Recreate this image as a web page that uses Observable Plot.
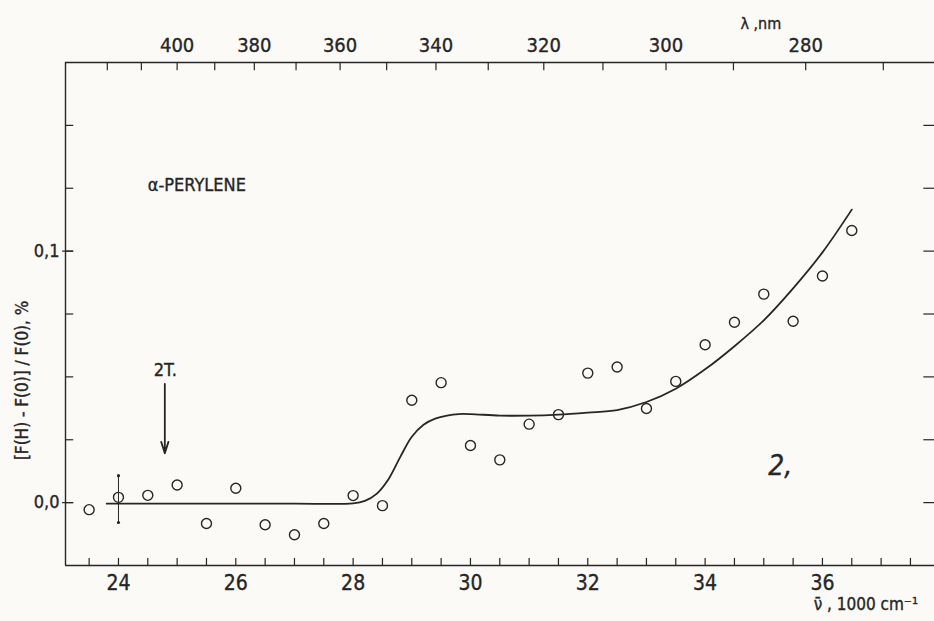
<!DOCTYPE html>
<html><head><meta charset="utf-8">
<script src="https://cdn.jsdelivr.net/npm/d3@7"></script>
<script src="https://cdn.jsdelivr.net/npm/@observablehq/plot@0.6"></script>
<style>
html,body{margin:0;padding:0;background:#fbfaf7;}
#chart svg{display:block;}
</style></head><body><div id="chart"></div>
<script>
// Measured points: wavenumber (1000 cm^-1) and relative change (%)
const wavenumber = [23.5,24,24.5,25,25.5,26,26.5,27,27.5,28,28.5,29,29.5,30,30.5,31,31.5,32,32.5,33,33.5,34,34.5,35,35.5,36,36.5];
const signal = [-0.0028,0.0021,0.0029,0.0070,-0.0083,0.0057,-0.0088,-0.0128,-0.0083,0.0028,-0.0012,0.0407,0.0477,0.0227,0.0170,0.0312,0.0350,0.0515,0.0539,0.0374,0.0482,0.0628,0.0717,0.0829,0.0721,0.0901,0.1082];
// Drawn fit curve
const curveX = [23.8,25,26,27,28.0,28.2,28.4,28.6,28.8,29.0,29.2,29.4,29.6,29.8,30.0,30.5,31.0,31.5,32.0,32.5,33.0,33.5,34.0,34.5,35.0,35.5,36.0,36.5];
const curveY = [-0.0004,-0.0004,-0.0004,-0.0004,-0.0003,0.0007,0.0035,0.0092,0.0180,0.0262,0.0310,0.0334,0.0346,0.0352,0.0352,0.0346,0.0346,0.0350,0.0358,0.0368,0.0400,0.0453,0.0530,0.0622,0.0725,0.0852,0.0995,0.1165];
// Error bar at 24
const errX = [24];
const errLow = [-0.0079];
const errHigh = [0.0107];
// Axes
const xTickLabels = [24,26,28,30,32,34,36];
const xMinorTicks = [23.5,24,24.5,25,25.5,26,26.5,27,27.5,28,28.5,29,29.5,30,30.5,31,31.5,32,32.5,33,33.5,34,34.5,35,35.5,36,36.5,37,37.5];
const yTicks = [0,0.025,0.05,0.075,0.1,0.125,0.15];
const yLabelValues = [0,0.1];
const yLabelTexts = ["0,0","0,1"];
const lambdaTicks = [270,280,290,300,310,320,330,340,350,360,370,380,390,400,410,420];
const lambdaLabels = [400,380,360,340,320,300,280];

const X0 = 23.097, X1 = 37.91, Y0 = -0.025, Y1 = 0.175;
const ink = "#262626";
const font = "'Liberation Sans Narrow', 'DejaVu Sans Condensed', sans-serif";
const ylen = 0.0033, xlen = 0.14;
const tx = {fill: ink, stroke: ink, strokeWidth: 0.35};

const pts = wavenumber.map((x,i)=>({x, y: signal[i]}));
const curve = curveX.map((x,i)=>({x, y: curveY[i]}));
const lam = lambdaTicks.map(l=>({l, x: 1e4/l}));
const lamLab = lambdaLabels.map(l=>({l, x: 1e4/l}));

const chart = Plot.plot({
  width: 934, height: 621,
  marginLeft: 65, marginRight: 0, marginTop: 62, marginBottom: 56,
  style: {background: "transparent", fontFamily: font, color: ink},
  x: {domain: [X0, X1], axis: null},
  y: {domain: [Y0, Y1], axis: null},
  marks: [
    // frame (left, top, bottom)
    Plot.ruleX([X0], {y1: Y0, y2: Y1, stroke: ink, strokeWidth: 1.4}),
    Plot.ruleY([Y1], {x1: X0, x2: X1, stroke: ink, strokeWidth: 1.4}),
    Plot.ruleY([Y0], {x1: X0, x2: X1, stroke: ink, strokeWidth: 1.4}),
    // bottom ticks
    Plot.ruleX(xMinorTicks, {x: d=>d, y1: Y0, y2: Y0 + ylen*0.85, stroke: ink, strokeWidth: 1.2}),
    Plot.text(xTickLabels, {x: d=>d, text: d=>String(d), frameAnchor: "bottom", lineAnchor: "middle", dy: 18, fontSize: 21, ...tx}),
    Plot.text(["ν\u0304 , 1000 cm\u207B\u00B9"], {x: 35.85, frameAnchor: "bottom", lineAnchor: "middle", dy: 39, textAnchor: "start", fontSize: 17, ...tx}),
    // top wavelength ticks
    Plot.ruleX(lam, {x: "x", y1: Y1, y2: Y1 - ylen*1.0, stroke: ink, strokeWidth: 1.2}),
    Plot.text(lamLab, {x: "x", text: d=>String(d.l), frameAnchor: "top", lineAnchor: "middle", dy: -17, fontSize: 20, ...tx}),
    Plot.text(["λ ,nm"], {x: 34.95, frameAnchor: "top", lineAnchor: "middle", dy: -39, fontSize: 16, ...tx}),
    // left ticks
    Plot.ruleY(yTicks, {y: d=>d, x1: X0, x2: X0 + xlen, stroke: ink, strokeWidth: 1.2}),
    Plot.ruleY(yLabelValues, {y: d=>d, x1: X0 - 0.05, x2: X0 + xlen, stroke: ink, strokeWidth: 1.2}),
    Plot.text(yLabelTexts, {y: (d,i)=>yLabelValues[i], text: d=>d, frameAnchor: "left", lineAnchor: "middle", dx: -6, textAnchor: "end", fontSize: 18, ...tx}),
    // right ticks
    Plot.ruleY(yTicks, {y: d=>d, x1: X1 - xlen*1.3, x2: X1, stroke: ink, strokeWidth: 1.2}),
    // y title
    Plot.text(["[F(H) - F(0)] / F(0), %"], {y: 0.0486, frameAnchor: "left", textAnchor: "middle", lineAnchor: "middle", dx: -43, rotate: -90, fontSize: 17, ...tx}),
    // curve
    Plot.line(curve, {x: "x", y: "y", curve: "catmull-rom", stroke: ink, strokeWidth: 1.8}),
    // error bar
    Plot.ruleX(errX, {x: d=>d, y1: (d,i)=>errLow[i], y2: (d,i)=>errHigh[i], stroke: ink, strokeWidth: 1}),
    Plot.dot(errX.flatMap((x,i)=>[{x, y: errLow[i]},{x, y: errHigh[i]}]), {x: "x", y: "y", r: 1.6, fill: ink}),
    // points
    Plot.dot(pts, {x: "x", y: "y", r: 5, stroke: ink, strokeWidth: 1.4, fill: "none"}),
    // annotations
    Plot.text(["\u03B1-PERYLENE"], {x: 24.5, y: 0.1261, textAnchor: "start", fontSize: 18, letterSpacing: "0.6px", ...tx}),
    Plot.text(["2T."], {x: 24.8, y: 0.0528, fontSize: 18, ...tx}),
    Plot.arrow([{x: 24.79, y1: 0.0472, y2: 0.0196}], {x1: "x", x2: "x", y1: "y1", y2: "y2", stroke: ink, strokeWidth: 1.8, headLength: 10, headAngle: 35}),
    Plot.text(["2,"], {x: 35.28, y: 0.0145, fontSize: 28, fontStyle: "italic", ...tx})
  ]
});
document.getElementById("chart").appendChild(chart);
</script>
</body></html>
